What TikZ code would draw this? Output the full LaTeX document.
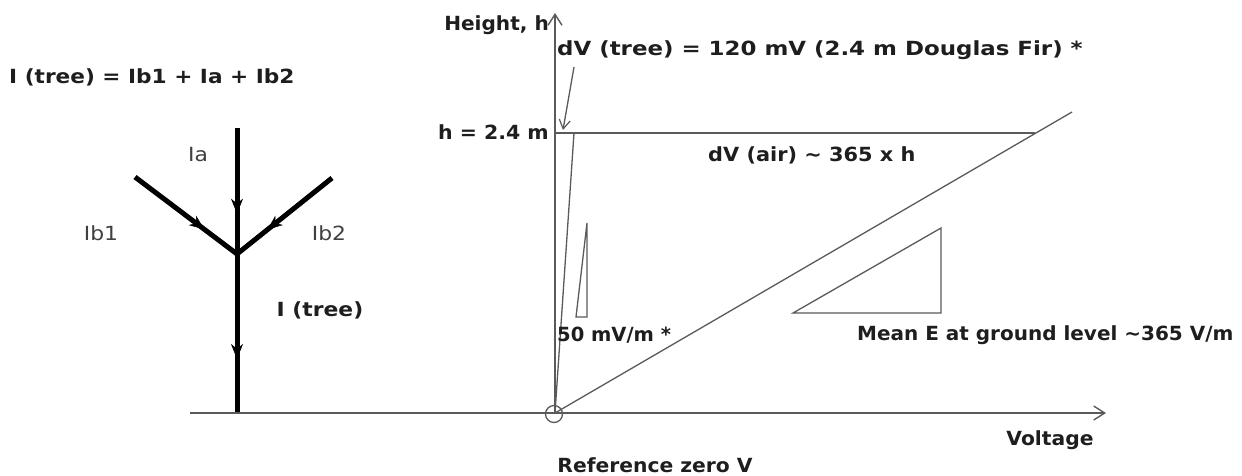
\documentclass[tikz,border=0pt]{standalone}
\usepackage{fontspec}
\usepackage{graphicx}
\setmainfont{DejaVu Sans}
\usetikzlibrary{arrows.meta,decorations.markings}
\definecolor{axisgray}{HTML}{5A5A5A}
\definecolor{txt}{HTML}{1E1E1E}
\newcommand{\hsc}[2]{\scalebox{#1}[1]{#2}}
\begin{document}
\begin{tikzpicture}[x=1pt,y=-1pt,
  lbl/.style={inner sep=0pt,font=\fontsize{19.5}{22}\selectfont\bfseries,text=txt},
  cur/.style={inner sep=0pt,font=\fontsize{19.5}{22}\selectfont,text=black!75},
  axis/.style={draw=axisgray,line width=1.6pt},
  thin/.style={draw=axisgray,line width=1.3pt},
  openarrow/.style={-{Straight Barb[length=11pt,width=14pt,line width=1.4pt]}},
  treeline/.style={line width=5pt,draw=black,line cap=butt},
  midarrow/.style={postaction={decorate},decoration={markings,
     mark=at position #1 with {\arrow[line width=0.5pt]{Stealth[length=15pt,width=12pt]}}}}
]
\useasboundingbox (0,0) rectangle (1242,475);
\fill[white] (0,0) rectangle (1242,475);

% ---------- tree ----------
\coordinate (ttop) at (237,128);
\coordinate (J) at (237,254);
\coordinate (Lb) at (135,177);
\coordinate (Rb) at (332,178);
\coordinate (tbase) at (237,413);
\draw[treeline,midarrow=0.68] (ttop) -- (J);
\draw[treeline,midarrow=0.68] (Lb) -- (J);
\draw[treeline,midarrow=0.68] (Rb) -- (J);
\draw[treeline,midarrow=0.66] (J) -- (tbase);

\node[lbl,anchor=west] (eq) at (9,77) {\hsc{1.11}{I (tree) = Ib1 + Ia + Ib2}};
\node[cur] (Ia) at (198,155) {\hsc{1.12}{Ia}};
\node[cur] (Ib1) at (101,233) {\hsc{1.12}{Ib1}};
\node[cur] (Ib2) at (329,233) {\hsc{1.12}{Ib2}};
\node[lbl] (Itree) at (320,310) {\hsc{1.12}{I (tree)}};

% ---------- axes ----------
\coordinate (gl) at (190,413);
\coordinate (gr) at (1106,413);
\coordinate (O) at (555,413);
\coordinate (vtop) at (555,13);
\draw[axis,openarrow] (gl) -- (gr);
\draw[axis,openarrow] (O) -- (vtop);
\node[draw=axisgray,line width=1.3pt,circle,minimum size=17pt,inner sep=0pt] (zero) at (554,414) {};

\node[lbl,anchor=east] (height) at (549,25) {\hsc{1.03}{Height, h}};
\node[lbl,anchor=east] (hval) at (549,132) {\hsc{1.05}{h = 2.4 m}};
\node[lbl] (volt) at (1050,440) {\hsc{1.04}{Voltage}};
\node[lbl] (ref) at (655,465) {\hsc{1.04}{Reference zero V}};

% ---------- h line and air gradient ----------
\coordinate (h0) at (555,133);
\coordinate (hend) at (1035,133);
\draw[axis] (h0) -- (hend);
\coordinate (dtop) at (1072,112);
\draw[thin] (O) -- (dtop);
\node[lbl,anchor=west] (dvair) at (708,155) {\hsc{1.07}{dV (air) \textasciitilde{} 365 x h}};

% ---------- tree voltage ----------
\coordinate (treetop) at (574,133);
\draw[thin] (O) -- (treetop);
\node[lbl,anchor=west] (dvtree) at (557,50) {\hsc{1.175}{dV (tree) = 120 mV (2.4 m Douglas Fir) *}};
\coordinate (a1) at (574,67);
\coordinate (a2) at (563,130);
\draw[thin,-{Straight Barb[length=9pt,width=11pt,line width=1.2pt]}] (a1) -- (a2);

% small slope triangle
\coordinate (s1) at (576,317);
\coordinate (s2) at (587,317);
\coordinate (s3) at (587,223);
\draw[thin] (s1) -- (s2) -- (s3) -- cycle;
\node[lbl,anchor=west] (fifty) at (557,335) {50 mV/m *};

% mean E triangle
\coordinate (m1) at (793,313);
\coordinate (m2) at (941,313);
\coordinate (m3) at (941,228);
\draw[thin] (m1) -- (m2) -- (m3) -- cycle;
\node[lbl,anchor=west] (meanE) at (857,335) {\hsc{1.025}{Mean E at ground level \textasciitilde365 V/m}};
\end{tikzpicture}
\end{document}
